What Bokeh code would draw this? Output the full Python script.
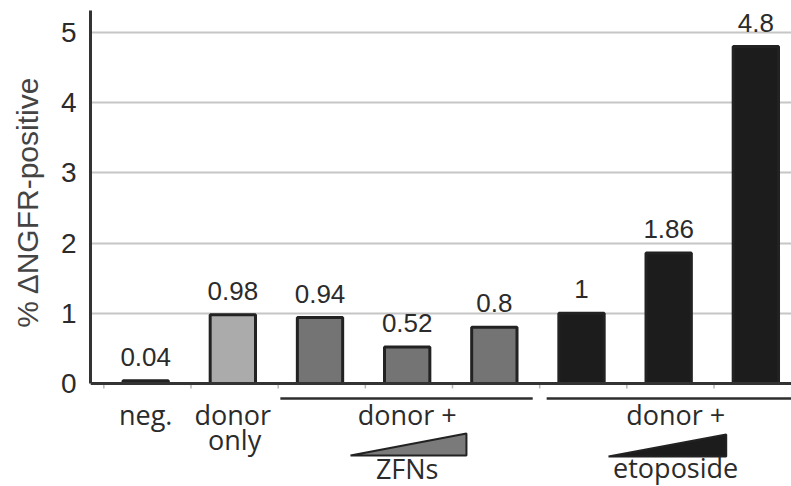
from bokeh.plotting import figure
from bokeh.models import ColumnDataSource, FixedTicker, Range1d, Span
from bokeh.core.properties import value
from bokeh.embed import file_html
from bokeh.resources import INLINE

# ---- data ----
bar_names = ["neg.", "donor only", "ZFNs low", "ZFNs mid", "ZFNs high",
             "etoposide low", "etoposide mid", "etoposide high"]
pct_positive = [0.04, 0.98, 0.94, 0.52, 0.8, 1.0, 1.86, 4.8]
value_labels = ["0.04", "0.98", "0.94", "0.52", "0.8", "1", "1.86", "4.8"]
y_ticks = [0, 1, 2, 3, 4, 5]
y_label = "% \u0394NGFR-positive"
single_labels = ["neg.", "donor", "only"]
group_header = "donor +"
treatments = ["ZFNs", "etoposide"]

# ---- styles ----
bar_colors = ["#1e1e1e", "#ababab", "#747474", "#747474", "#747474",
              "#1c1c1c", "#1c1c1c", "#1c1c1c"]
NUM_FONT = "Liberation Sans"
LBL_FONT = "Open Sans"
TXT = "#2b2b2b"

x = list(range(len(bar_names)))
src = ColumnDataSource(dict(x=x, top=pct_positive, lab=value_labels, color=bar_colors))

p = figure(width=791, height=486,
           x_range=Range1d(-0.633, 7.409), y_range=Range1d(-1.467, 5.456),
           output_backend="svg", toolbar_location=None, x_axis_location=None,
           min_border_left=90, min_border_right=0, min_border_top=0, min_border_bottom=0)
p.outline_line_color = None
p.background_fill_color = "white"
p.border_fill_color = "white"

# grid
p.xgrid.grid_line_color = None
p.ygrid.ticker = FixedTicker(ticks=[t for t in y_ticks if t > 0])
p.ygrid.grid_line_color = "#c6c6c6"
p.ygrid.grid_line_width = 2

# y axis
ya = p.yaxis[0]
ya.ticker = FixedTicker(ticks=y_ticks)
ya.bounds = (0, 5.31)
ya.axis_line_color = "#333333"
ya.axis_line_width = 3
ya.major_tick_line_color = None
ya.minor_tick_line_color = None
ya.major_label_standoff = 8
ya.major_label_text_font = NUM_FONT
ya.major_label_text_font_size = "28px"
ya.major_label_text_color = TXT
# leading no-break spaces lift the title so it is centred on the axis rule
ya.axis_label = "\u00a0" * 10 + y_label
ya.axis_label_text_font = NUM_FONT
ya.axis_label_text_font_size = "30px"
ya.axis_label_text_font_style = "normal"
ya.axis_label_text_color = "#444444"
ya.axis_label_standoff = 14

# baseline
p.add_layout(Span(location=0, dimension="width", line_color="#333333", line_width=3))
# small separator ticks below the baseline
sep = [i - 0.48 for i in x]
p.segment(x0=sep, y0=[0] * len(sep), x1=sep, y1=[-0.07] * len(sep),
          line_color="#b5b5b5", line_width=1.5)

# bars
p.vbar(x="x", top="top", width=0.52, bottom=0, source=src,
       fill_color="color", line_color="#222222", line_width=3)

# value labels
p.text(x="x", y="top", text="lab", source=src, text_align="center",
       text_baseline="alphabetic", y_offset=-24,
       text_font=value(NUM_FONT), text_font_size="26px", text_color=TXT)

# category labels
p.text(x=[0, 1], y=[-0.442, -0.442], text=single_labels[:2], text_align="center",
       text_baseline="alphabetic", text_font=value(LBL_FONT), text_font_size="27px",
       text_color=TXT)
p.text(x=[1.02], y=[-0.798], text=[single_labels[2]], text_align="center",
       text_baseline="alphabetic", text_font=value(LBL_FONT), text_font_size="27px",
       text_color=TXT)

# group lines
p.segment(x0=[1.545, 4.6], y0=[-0.214, -0.214], x1=[4.44, 7.5], y1=[-0.214, -0.214],
          line_color="#2e2e2e", line_width=2.5)
p.text(x=[3.0, 6.08], y=[-0.442, -0.442], text=[group_header, group_header],
       text_align="center", text_baseline="alphabetic", text_font=value(LBL_FONT),
       text_font_size="27px", text_color=TXT)

# wedges
p.patches(xs=[[2.35, 3.68, 3.68], [5.31, 6.66, 6.66]],
          ys=[[-1.026, -1.026, -0.712], [-1.04, -1.04, -0.726]],
          fill_color=["#7a7a7a", "#1c1c1c"], line_color="#222222", line_width=2)
p.text(x=[3.0, 6.08], y=[-1.21, -1.197], text=treatments, text_align="center",
       text_baseline="alphabetic", text_font=value(LBL_FONT), text_font_size="27px",
       text_color=TXT)

open("out.html", "w").write(file_html(p, INLINE))
